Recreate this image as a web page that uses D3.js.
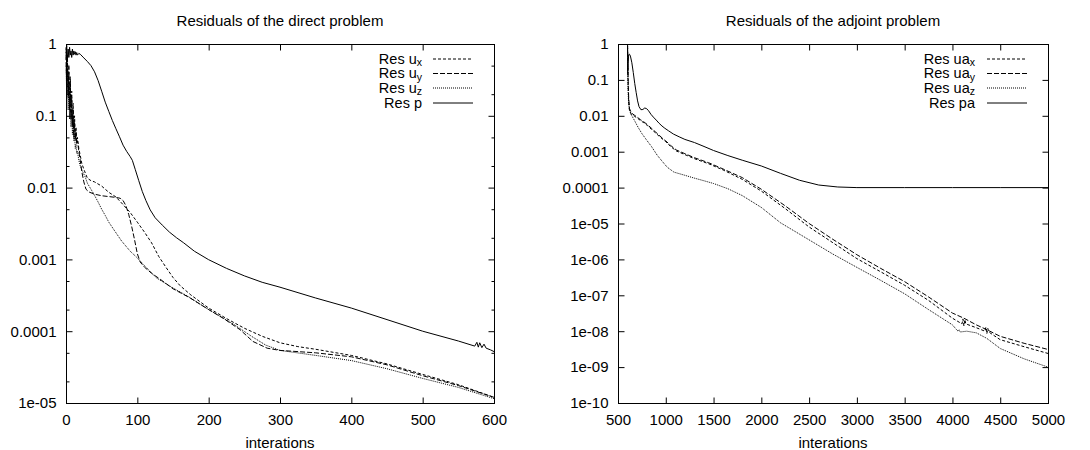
<!DOCTYPE html>
<html>
<head>
<meta charset="utf-8">
<script src="https://cdn.jsdelivr.net/npm/d3@7"></script>
<style>
  body { margin: 0; background: #fff; }
  svg { display: block; }
</style>
</head>
<body>
<div id="chart"></div>
<script>
// ---- data: [iteration, residual] ----
const directUx = [[0,0.9],[1,0.35],[2,0.7],[3,0.2],[4,0.5],[5,0.15],[6,0.35],[7,0.1],[8,0.22],[9,0.08],[10,0.15],[11,0.06],[12,0.1],[13,0.05],[14,0.07],[15,0.045],[16,0.05],[18,0.035],[20,0.028],[22,0.022],[25,0.018],[30,0.0135],[35,0.0125],[40,0.012],[50,0.0105],[60,0.0086],[70,0.0074],[80,0.0058],[90,0.0045],[100,0.0033],[110,0.0024],[120,0.0017],[130,0.0011],[140,0.00078],[150,0.00056],[160,0.00043],[175,0.00032],[200,0.00021],[225,0.00015],[250,0.00011],[275,0.000085],[300,0.000069],[325,0.000061],[350,0.000056],[400,0.000046],[450,0.000035],[500,0.000025],[550,0.000018],[600,0.000012]];
const directUy = [[0,0.7],[1,0.25],[2,0.55],[3,0.18],[4,0.4],[5,0.12],[6,0.3],[7,0.09],[8,0.18],[9,0.07],[10,0.12],[11,0.05],[12,0.08],[13,0.045],[14,0.06],[15,0.04],[16,0.045],[18,0.032],[20,0.024],[22,0.017],[25,0.012],[28,0.0095],[32,0.0087],[40,0.0081],[50,0.0077],[60,0.0075],[70,0.0073],[76,0.0071],[80,0.0066],[84,0.0056],[88,0.0042],[92,0.0029],[96,0.0019],[100,0.0012],[104,0.00092],[110,0.00078],[120,0.00064],[132,0.00053],[150,0.00039],[174,0.00029],[200,0.0002],[221,0.00015],[244,0.000105],[262,0.000072],[282,0.000058],[300,0.000054],[350,0.00005],[400,0.000044],[450,0.000034],[500,0.000024],[550,0.0000175],[600,0.000012]];
const directUz = [[0,0.5],[1,0.2],[2,0.4],[3,0.12],[4,0.3],[5,0.09],[6,0.2],[7,0.07],[8,0.12],[9,0.055],[10,0.08],[11,0.045],[12,0.055],[13,0.035],[14,0.04],[15,0.03],[16,0.032],[18,0.024],[20,0.02],[23,0.017],[27,0.014],[30,0.0115],[35,0.0095],[40,0.0078],[45,0.0063],[50,0.005],[55,0.0041],[60,0.0033],[67,0.0026],[78,0.0018],[90,0.0013],[100,0.00105],[110,0.00082],[127,0.00055],[150,0.0004],[170,0.00031],[200,0.0002],[235,0.000125],[260,0.000085],[280,0.000064],[300,0.000054],[350,0.000046],[400,0.000039],[450,0.00003],[500,0.000022],[550,0.0000165],[600,0.0000115]];
const directP = [[0,0.75],[1,0.95],[2,0.6],[3,0.85],[4,0.65],[5,0.9],[6,0.7],[7,0.8],[8,0.65],[9,0.85],[10,0.7],[11,0.8],[12,0.72],[13,0.78],[14,0.7],[15,0.76],[16,0.7],[18,0.74],[20,0.72],[25,0.64],[30,0.57],[35,0.5],[40,0.41],[45,0.31],[50,0.22],[55,0.155],[60,0.115],[65,0.086],[70,0.066],[75,0.051],[80,0.039],[85,0.032],[90,0.027],[93,0.024],[97,0.018],[102,0.0125],[107,0.0088],[112,0.0066],[118,0.0049],[125,0.0038],[135,0.003],[145,0.0024],[155,0.002],[165,0.0017],[180,0.0013],[200,0.00099],[225,0.00075],[250,0.00059],[275,0.00048],[300,0.00041],[350,0.00029],[400,0.00021],[450,0.000145],[500,0.0001],[550,0.000073],[573,0.000062],[576,0.00007],[578,0.00006],[580,0.000069],[583,0.000059],[586,0.000066],[589,0.000058],[595,0.000055],[600,0.000052]];

const adjointUax = [[600,0.8],[603,0.2],[607,0.06],[612,0.025],[620,0.014],[640,0.011],[670,0.0098],[700,0.0087],[735,0.0074],[770,0.0064],[810,0.0053],[850,0.0042],[890,0.0034],[930,0.0027],[970,0.0022],[1000,0.0019],[1050,0.0014],[1110,0.00105],[1200,0.00083],[1300,0.00064],[1450,0.00046],[1600,0.00031],[1800,0.00017],[2000,0.00008],[2250,0.000026],[2500,0.000008],[2750,0.0000029],[3000,0.00000105],[3250,4.5e-7],[3500,1.9e-7],[3750,7.2e-8],[4000,2.3e-8],[4100,1.6e-8],[4110,2.2e-8],[4120,1.4e-8],[4130,2.1e-8],[4140,1.6e-8],[4250,1.25e-8],[4340,1e-8],[4350,1.3e-8],[4360,0.85e-8],[4370,1.2e-8],[4380,0.95e-8],[4500,5.8e-9],[4750,3.7e-9],[5000,2.4e-9]];
const adjointUay = [[600,1.0],[603,0.3],[607,0.08],[612,0.03],[620,0.016],[640,0.012],[670,0.0105],[700,0.0092],[735,0.0078],[770,0.0068],[810,0.0056],[850,0.0045],[890,0.0036],[930,0.0029],[970,0.0023],[1000,0.002],[1050,0.0015],[1110,0.00112],[1200,0.00088],[1300,0.00068],[1450,0.00049],[1600,0.00033],[1800,0.00019],[2000,0.00009],[2250,0.000031],[2500,0.00001],[2750,0.0000036],[3000,0.00000135],[3250,5.6e-7],[3500,2.4e-7],[3750,9e-8],[4000,3.2e-8],[4120,2.3e-8],[4250,1.5e-8],[4360,1.1e-8],[4500,7.2e-9],[4750,4.6e-9],[5000,3.1e-9]];
const adjointUaz = [[600,1.0],[602,0.2],[605,0.06],[610,0.025],[620,0.015],[635,0.011],[650,0.0095],[680,0.0068],[710,0.0048],[750,0.0032],[800,0.0021],[850,0.0014],[910,0.0008],[960,0.00055],[1015,0.00037],[1085,0.00027],[1200,0.00022],[1295,0.000185],[1400,0.000155],[1500,0.00013],[1650,0.000093],[1800,0.00006],[2000,0.000028],[2200,0.0000105],[2500,0.0000035],[2750,0.0000014],[3000,6e-7],[3250,2.6e-7],[3500,1.1e-7],[3750,4e-8],[4000,1.5e-8],[4050,1.05e-8],[4060,1e-8],[4070,1.1e-8],[4080,0.95e-8],[4150,1e-8],[4250,9e-9],[4360,6.3e-9],[4500,3.3e-9],[4750,1.7e-9],[5000,1e-9]];
const adjointPa = [[600,0.9],[602,0.15],[606,0.3],[612,0.5],[620,0.52],[630,0.46],[645,0.3],[660,0.16],[675,0.08],[690,0.045],[705,0.026],[720,0.018],[740,0.0148],[760,0.015],[780,0.0165],[800,0.0158],[820,0.0138],[845,0.011],[870,0.0092],[900,0.0076],[930,0.0062],[960,0.0052],[990,0.0045],[1030,0.0038],[1080,0.0031],[1140,0.0026],[1200,0.0022],[1300,0.0018],[1400,0.0014],[1500,0.00108],[1650,0.00078],[1800,0.00058],[2000,0.0004],[2200,0.00025],[2400,0.00016],[2600,0.000118],[2800,0.000104],[3000,0.0001],[3500,0.0001],[4000,0.0001],[4500,0.0001],[5000,0.0001]];

// ticks and labels
const directXTicks = [0, 100, 200, 300, 400, 500, 600];
const directYTicks = [1, 0.1, 0.01, 0.001, 0.0001, 0.00001];
const directYLabels = ["1", "0.1", "0.01", "0.001", "0.0001", "1e-05"];
const directYMinor = [0.5, 0.2, 0.05, 0.02, 0.005, 0.002, 0.0005, 0.0002, 0.00005, 0.00002];
const adjointXTicks = [500, 1000, 1500, 2000, 2500, 3000, 3500, 4000, 4500, 5000];
const adjointYTicks = [1, 0.1, 0.01, 0.001, 0.0001, 1e-5, 1e-6, 1e-7, 1e-8, 1e-9, 1e-10];
const adjointYLabels = ["1", "0.1", "0.01", "0.001", "0.0001", "1e-05", "1e-06", "1e-07", "1e-08", "1e-09", "1e-10"];

const directNames = ["Res u", "Res u", "Res u", "Res p"];
const adjointNames = ["Res ua", "Res ua", "Res ua", "Res pa"];
const seriesSubs = ["x", "y", "z", ""];

// line styles: ux short dash, uy long dash, uz fine dots, p solid
const dashes = ["3,2", "5,2", "1,1", null];

const font = "'Liberation Sans', Arial, Helvetica, sans-serif";
const svg = d3.select("#chart").append("svg")
  .attr("width", 1090)
  .attr("height", 450)
  .style("font-family", font);

function drawPanel(p) {
  const x = d3.scaleLinear().domain(p.xDomain).range([p.left, p.right]);
  const y = d3.scaleLog().domain(p.yDomain).range([p.bottom, p.top]);
  const g = svg.append("g");

  const styleAxis = sel => sel
    .attr("font-family", font)
    .attr("font-size", 15)
    .call(s => s.select(".domain").remove())
    .call(s => s.selectAll(".tick text").attr("fill", "#000"));

  // bottom + top (mirror)
  g.append("g")
    .attr("transform", `translate(0,${p.bottom + 0.5})`)
    .call(d3.axisBottom(x).tickValues(p.xTicks).tickFormat(d3.format("d"))
      .tickSize(-6).tickSizeOuter(0).tickPadding(11))
    .call(styleAxis);
  g.append("g")
    .attr("transform", `translate(0,${p.top + 0.5})`)
    .call(d3.axisTop(x).tickValues(p.xTicks).tickFormat("").tickSize(-6).tickSizeOuter(0))
    .call(styleAxis);

  // left + right (mirror)
  g.append("g")
    .attr("transform", `translate(${p.left + 0.5},0)`)
    .call(d3.axisLeft(y).tickValues(p.yTicks).tickFormat((d, i) => p.yLabels[i])
      .tickSize(-6).tickSizeOuter(0).tickPadding(10))
    .call(styleAxis);
  g.append("g")
    .attr("transform", `translate(${p.right + 0.5},0)`)
    .call(d3.axisRight(y).tickValues(p.yTicks).tickFormat("").tickSize(-6).tickSizeOuter(0))
    .call(styleAxis);

  if (p.yMinor) {
    g.append("g")
      .attr("transform", `translate(${p.left + 0.5},0)`)
      .call(d3.axisLeft(y).tickValues(p.yMinor).tickFormat("").tickSize(-3).tickSizeOuter(0))
      .call(styleAxis);
    g.append("g")
      .attr("transform", `translate(${p.right + 0.5},0)`)
      .call(d3.axisRight(y).tickValues(p.yMinor).tickFormat("").tickSize(-3).tickSizeOuter(0))
      .call(styleAxis);
  }

  // frame
  g.append("rect")
    .attr("x", p.left + 0.5)
    .attr("y", p.top + 0.5)
    .attr("width", p.right - p.left)
    .attr("height", p.bottom - p.top)
    .attr("fill", "none")
    .attr("stroke", "#000");

  // curves
  const line = d3.line().x(d => x(d[0])).y(d => y(d[1]));
  g.selectAll(".curve")
    .data(p.series)
    .join("path")
    .attr("class", "curve")
    .attr("d", d => line(d))
    .attr("fill", "none")
    .attr("stroke", "#000")
    .attr("stroke-width", 1)
    .attr("stroke-dasharray", (d, i) => dashes[i]);

  // legend
  const rowY = i => p.top + 15 + i * 14.5 + (i === 3 ? 0.5 : 0);
  const key = g.selectAll(".key")
    .data(p.names)
    .join("g")
    .attr("class", "key");
  key.append("text")
    .attr("x", p.keyText)
    .attr("y", (d, i) => rowY(i) + 4.5)
    .attr("text-anchor", "end")
    .attr("font-size", 14.5)
    .each(function (d, i) {
      const t = d3.select(this);
      t.append("tspan").text(d);
      if (seriesSubs[i]) {
        t.append("tspan").attr("font-size", 10.5).attr("dy", 2.5).text(seriesSubs[i]);
      }
    });
  key.append("line")
    .attr("x1", p.keyLine[0])
    .attr("x2", p.keyLine[1])
    .attr("y1", (d, i) => rowY(i))
    .attr("y2", (d, i) => rowY(i))
    .attr("stroke", "#000")
    .attr("stroke-dasharray", (d, i) => dashes[i]);

  // titles
  g.append("text")
    .attr("x", (p.left + p.right) / 2)
    .attr("y", 26)
    .attr("text-anchor", "middle")
    .attr("font-size", 15)
    .text(p.title);
  g.append("text")
    .attr("x", (p.left + p.right) / 2)
    .attr("y", 448)
    .attr("text-anchor", "middle")
    .attr("font-size", 15)
    .text("interations");
}

drawPanel({
  left: 66, right: 494, top: 44, bottom: 403,
  xDomain: [0, 600], yDomain: [1e-5, 1],
  xTicks: directXTicks, yTicks: directYTicks, yLabels: directYLabels, yMinor: directYMinor,
  series: [directUx, directUy, directUz, directP],
  names: directNames,
  keyText: 422, keyLine: [433, 473],
  title: "Residuals of the direct problem"
});

drawPanel({
  left: 618, right: 1048, top: 44, bottom: 403,
  xDomain: [500, 5000], yDomain: [1e-10, 1],
  xTicks: adjointXTicks, yTicks: adjointYTicks, yLabels: adjointYLabels, yMinor: null,
  series: [adjointUax, adjointUay, adjointUaz, adjointPa],
  names: adjointNames,
  keyText: 975, keyLine: [987, 1027],
  title: "Residuals of the adjoint problem"
});
</script>
</body>
</html>
